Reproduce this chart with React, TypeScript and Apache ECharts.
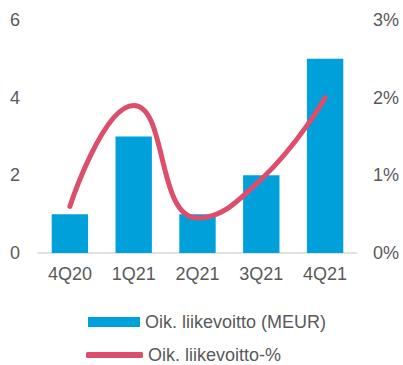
import React, { useEffect, useRef } from "react";
import * as echarts from "echarts";

const categories = ["4Q20", "1Q21", "2Q21", "3Q21", "4Q21"];
const profitMeur = [1, 3, 1, 2, 5];
const profitPct = [0.6, 1.9, 0.45, 0.95, 2.0];
const barName = "Oik. liikevoitto (MEUR)";
const lineName = "Oik. liikevoitto-%";

export default function App() {
  const ref = useRef<HTMLDivElement>(null);
  useEffect(() => {
    const chart = echarts.init(ref.current!, null, { renderer: "svg" });
    const font = "'Liberation Sans', Arial, sans-serif";
    const grey = "#595959";
    chart.setOption({
      animation: false,
      textStyle: { fontFamily: font },
      grid: { left: 38, right: 46, top: 20, bottom: 112, containLabel: false },
      legend: [
        {
          data: [{ name: barName, icon: "rect" }],
          left: 88,
          top: 313,
          padding: 0,
          itemWidth: 52,
          itemHeight: 10,
          textStyle: { fontSize: 18, color: grey, fontFamily: font },
        },
        {
          data: [{ name: lineName, icon: "roundRect" }],
          left: 86,
          top: 346,
          padding: 0,
          itemWidth: 57,
          itemHeight: 6,
          textStyle: { fontSize: 18, color: grey, fontFamily: font },
        },
      ],
      xAxis: {
        type: "category",
        data: categories,
        axisLine: { lineStyle: { color: "#D9D9D9", width: 1.5 } },
        axisTick: { show: false },
        axisLabel: { fontSize: 18, color: grey, margin: 12, fontFamily: font },
      },
      yAxis: [
        {
          type: "value",
          min: 0,
          max: 6,
          interval: 2,
          splitLine: { show: false },
          axisLabel: { fontSize: 18, color: grey, margin: 18, fontFamily: font },
        },
        {
          type: "value",
          min: 0,
          max: 3,
          interval: 1,
          splitLine: { show: false },
          axisLabel: { fontSize: 18, color: grey, margin: 16, formatter: "{value}%", fontFamily: font },
        },
      ],
      series: [
        {
          name: barName,
          type: "bar",
          data: profitMeur,
          barWidth: "57%",
          itemStyle: { color: "#00A0DA" },
        },
        {
          name: lineName,
          type: "line",
          yAxisIndex: 1,
          data: profitPct,
          smooth: 0.5,
          showSymbol: false,
          symbol: "none",
          lineStyle: { color: "#DC4E6C", width: 5, cap: "round" },
          itemStyle: { color: "#DC4E6C" },
        },
      ],
    });
    return () => chart.dispose();
  }, []);
  return <div ref={ref} style={{ width: 403, height: 365, position: "absolute", left: 0, top: 0 }} />;
}
